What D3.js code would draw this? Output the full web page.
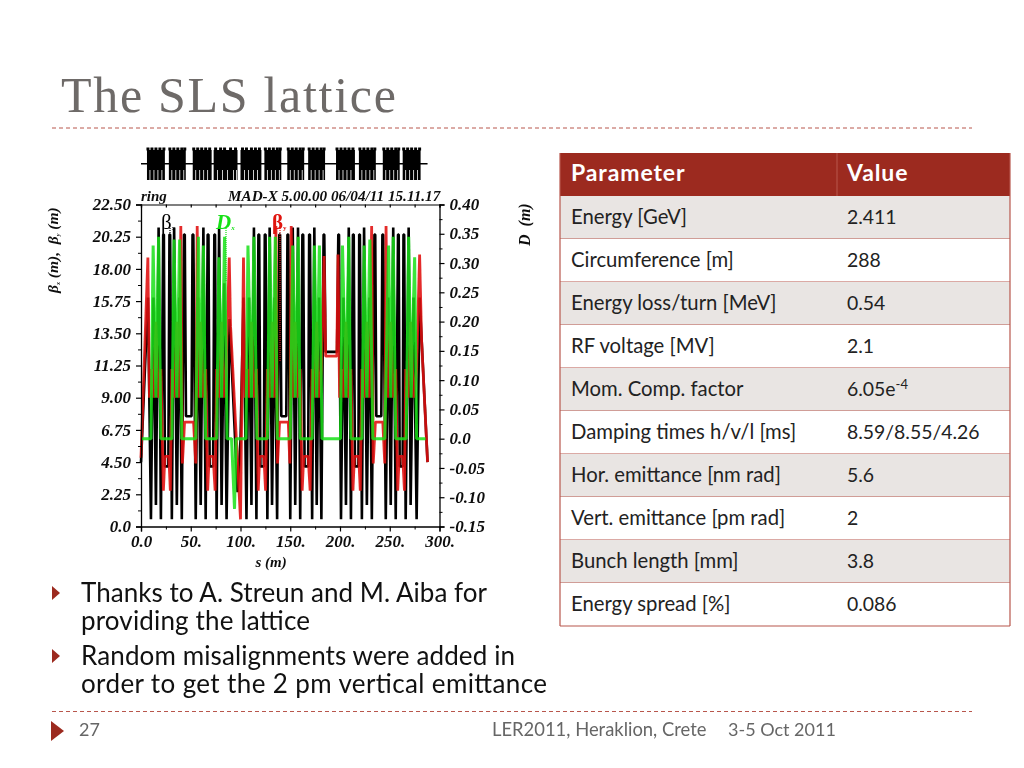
<!DOCTYPE html>
<html><head><meta charset="utf-8">
<script src="https://cdn.jsdelivr.net/npm/d3@7"></script>
<style>
html,body{margin:0;padding:0;background:#fff;overflow:hidden}
svg{display:block}
.sans{font-family:Lato,"Noto Sans",sans-serif}
.plot text{font-family:"Liberation Serif",serif;font-style:italic;font-weight:bold;fill:#111}
</style></head><body>
<svg id="c" width="1024" height="768"></svg>
<script>
const slideTitle="The SLS lattice";
const bulletGroups=[["Thanks to A. Streun and M. Aiba for","providing the lattice"],["Random misalignments were added in","order to get the 2 pm vertical emittance"]];
const footerLeft="27", footerMid="LER2011, Heraklion, Crete", footerRight="3-5 Oct 2011";
const tableHead=["Parameter","Value"];
const paramNames=["Energy [GeV]","Circumference [m]","Energy loss/turn [MeV]","RF voltage [MV]","Mom. Comp. factor","Damping times h/v/l [ms]","Hor. emittance [nm rad]","Vert. emittance [pm rad]","Bunch length [mm]","Energy spread [%]"];
const paramValues=["2.411","288","0.54","2.1","6.05e-4","8.59/8.55/4.26","5.6","2","3.8","0.086"];

const betaTicks=[0,2.25,4.5,6.75,9,11.25,13.5,15.75,18,20.25,22.5];
const betaLabels=["0.0","2.25","4.50","6.75","9.00","11.25","13.50","15.75","18.00","20.25","22.50"];
const dispTicks=[-0.15,-0.1,-0.05,0,0.05,0.1,0.15,0.2,0.25,0.3,0.35,0.4];
const dispLabels=["-0.15","-0.10","-0.05","0.0","0.05","0.10","0.15","0.20","0.25","0.30","0.35","0.40"];
const sTicks=[0,50,100,150,200,250,300];
const sLabels=["0.0","50.","100.","150.","200.","250.","300."];

const betaXPts=[[0,4.5],[7,16],[10,.5],[12.5,16],[15,1.5],[17.7,20.9],[20,.5],[22.3,20.4],[23,20.4],[24,4.2],[27.5,4.2],[28.6,20.4],[29.3,20.4],[31,.5],
[33.3,20.9],[36,1.5],[38.7,16],[41,.5],[43.2,20.4],[44,20.4],[45.2,7.7],[50.8,7.7],[51.8,20.4],[52.6,20.4],[55,.5],
[57.3,16],[60,1.5],[62.7,20.9],[65,.5],[67,20.4],[67.8,20.4],[69,4.2],[72.5,4.2],[73.7,20.4],[74.4,20.4],[76,.5],
[78.5,20.9],[81,1.5],[83.7,17],[86,.5],[89,14.5],[97,2.4],[100,6],[103,16],[106,.5],
[108.5,16],[111,1.5],[113.5,20.9],[116,.5],[118,20.4],[118.8,20.4],[120,4.2],[123.5,4.2],[124.4,20.4],[125.2,20.4],[127,.5],
[129.3,20.9],[131.7,1.5],[134.3,16],[136.8,.5],[139,20.4],[139.8,20.4],[141,7.7],[146,7.7],[147.2,20.4],[148,20.4],[150,.5],
[152.5,20.9],[155,1.5],[157.8,20.9],[160,.5],[162.2,20.4],[163,20.4],[164.4,4.2],[168,4.2],[169,20.4],[169.8,20.4],[172,.5],
[174.2,20.9],[176.6,1.5],[179,16],[181.3,.5],[183.5,20.4],[184.2,20.4],[185.5,12.2],[197,12.2],[198.3,20.4],[199,20.4],[201,.5],
[203.5,16],[206,1.5],[208.8,20.9],[211,.5],[213,20.4],[213.8,20.4],[215,4.2],[218.5,4.2],[219.3,20.4],[220,20.4],[222,.5],
[224.2,20.9],[227,1.5],[229.7,16],[232,.5],[234.6,20.4],[235.4,20.4],[236.5,7.7],[241.5,7.7],[242.6,20.4],[243.4,20.4],[246,.5],
[248.5,16],[251,1.5],[253.5,20.9],[256,.5],[258.3,20.4],[259,20.4],[260,4.2],[263,4.2],[263.8,20.4],[264.5,20.4],[266,.5],
[269,20.9],[271,1.5],[274,16],[277,.5],[280,16],[288,4.5]];

const betaYPts=[[0,4.8],[6.9,18.8],[8.5,9],[10.5,11],[12.5,9],[15,14.3],[17.5,9],[20,11],[22.5,2.5],[24,4.9],[28,4.9],[29.5,2.5],[31,11],[33.5,9],[36,14.3],[38.3,9],[40,21],[41.6,4.4],[43.8,7.3],[52.8,7.3],[55,4.4],[56.5,21],[58,9],[60,14.3],[62.5,9],[65,11],[67,2.5],[68.5,4.9],[72.5,4.9],[74.5,2.5],[76,11],[78.5,9],[81,14.3],[83.5,9],[85.5,11],[88.7,18.8],[90,14],[100,.5],
[103,18.8],[104.6,9],[106.5,11],[108.5,9],[111,14.3],[113.5,9],[116,11],[117.8,2.5],[119.3,4.9],[123.5,4.9],[125.2,2.5],[127,11],[129.3,9],[131.7,14.3],[134,9],[135.6,21],[137.2,4.4],[139.3,7.3],[148,7.3],[149.6,4.4],[151,21],[152.8,9],[155,14.3],[157.5,9],[160,11],[162,2.5],[163.5,4.9],[168,4.9],[170,2.5],[172,11],[174.3,9],[176.6,14.3],[179,9],[181.3,11],[184,18.9],[185.6,11.9],[196.8,11.9],[198,19],[199.6,9],[201.5,11],[203.5,9],[206,14.3],[208.5,9],[211,11],[213,2.5],[214.5,4.9],[218.8,4.9],[220.4,2.5],[222,11],[224.5,9],[227,14.3],[229.5,9],[231.8,21],[233.4,4.4],[235.6,7.3],[243,7.3],[245,4.4],[246.3,21],[248,9],[251,14.3],[253.5,9],[256,11],[258,2.5],[259.5,4.9],[263,4.9],[264.8,2.5],[266,11],[268.5,9],[271,14.3],[274,9],[277,11],[280,19],[282,13],[288,4.5]];

const dispPts=[[0,0],[10,0],[12.2,.33],[15,.07],[17.7,.345],[20,0],[31,0],[33.2,.34],[36,.07],[38.8,.34],[41,0],[55,0],[57.7,.345],[60,.07],[62.7,.33],[65,0],[76,0],[78.3,.31],[81,.07],[84,.345],[86.5,0],[91,0],[94,-.12],[95.5,0],[105.5,0],[107.5,.33],[111,.07],[113.5,.345],[116.5,0],[127,0],[129.3,.345],[131.7,.07],[135,.345],[137,0],[150,0],[152.5,.33],[155,.07],[158,.345],[160,0],[172,0],[174.3,.33],[176.6,.07],[179.3,.33],[182,0],[200.5,0],[202.5,.33],[206,.07],[208.8,.345],[211,0],[222,0],[224.3,.33],[227,.07],[230,.34],[233,0],[245,0],[248.8,.33],[251,.07],[253.5,.345],[256,0],[266.5,0],[269,.345],[271.5,.07],[275,.31],[277,0],[286,0]];

const latticeBlocks=[[6,24],[28,45],[52,71],[73,97],[100,121],[124,141],[147,164],[168,185],[196,215],[219,236],[243,260],[263,281]];
const latticeTeeth=[7,11,15,19,23,29,33,37,41,44,53,57,61,65,69,75,80,84,90,95,102,106,111,115,119,125,129,133,137,140,148,152,156,160,163,169,173,177,181,184,197,201,205,209,213,220,224,228,232,235,244,248,252,256,259,264,268,272,276,280];
const latticeSlits=[9,13,17,21,31,35,39,43,55,59,63,67,77,82,87,93,96,104,108,113,117,127,131,135,139,150,154,158,162,171,175,179,183,199,203,207,211,222,226,230,234,246,250,254,258,266,270,274,278];

const svg=d3.select("#c");
const red="#9c2a1f", gray="#666666", rule="#b8564c";
const defs=svg.append("defs");
defs.append("filter").attr("id","soft").append("feGaussianBlur").attr("stdDeviation",0.45);

// slide furniture
svg.append("text").attr("x",61).attr("y",112).attr("font-family","Liberation Serif").attr("font-size",50).attr("fill","#6e6a68").attr("letter-spacing",1.7).text(slideTitle);
[128,711.5].forEach(y=>svg.append("line").attr("x1",52).attr("x2",972).attr("y1",y).attr("y2",y).attr("stroke",rule).attr("stroke-width",1).attr("stroke-dasharray","4 3"));

// scales
const x=d3.scaleLinear().domain([0,300]).range([141,439.5]);
const yB=d3.scaleLinear().domain([0,22.5]).range([526.5,204.5]);
const yD=d3.scaleLinear().domain([-0.15,0.4]).range([526.5,204.5]);

const plot=svg.append("g").attr("class","plot").attr("filter","url(#soft)");

// lattice
const lat=plot.append("g");
lat.append("line").attr("x1",x(0)).attr("x2",x(288)).attr("y1",163.7).attr("y2",163.7).attr("stroke","#000").attr("stroke-width",1.4);
lat.selectAll(".b").data(latticeBlocks).join("rect").attr("x",d=>x(d[0])).attr("width",d=>x(d[1])-x(d[0])).attr("y",150).attr("height",30).attr("fill","#000");
lat.selectAll(".t").data(latticeTeeth).join("rect").attr("x",d=>x(d)-1.5).attr("width",3).attr("y",147.5).attr("height",3).attr("fill","#000");
lat.selectAll(".s").data(latticeSlits).join("rect").attr("x",d=>x(d)-.4).attr("width",.8).attr("y",170).attr("height",11).attr("fill","#fff");

// curves
const lineB=d3.line().x(d=>x(d[0])).y(d=>yB(d[1]));
const lineD=d3.line().x(d=>x(d[0])).y(d=>yD(d[1]));
plot.append("path").attr("d",lineB(betaXPts)).attr("fill","none").attr("stroke","#000").attr("stroke-width",2.6).attr("stroke-linejoin","bevel");
plot.append("path").attr("d",lineB(betaYPts)).attr("fill","none").attr("stroke","#e0120f").attr("stroke-width",2.8).attr("opacity",.88).attr("stroke-linejoin","bevel");
plot.append("path").attr("d",lineD(dispPts)).attr("fill","none").attr("stroke","#16e016").attr("stroke-width",3).attr("opacity",.85).attr("stroke-linejoin","bevel");

// axes
const axG=plot.append("g");
function ax(orient,scale,vals,labels,minor,tx,ty){
  const a=orient(scale).tickValues(vals).tickFormat((d,i)=>labels[i]).tickSize(5).tickPadding(5);
  const g=axG.append("g").attr("transform",`translate(${tx},${ty})`).call(a);
  g.selectAll("path").attr("stroke","#000").attr("stroke-width",1.3);
  g.selectAll("line").attr("stroke","#000").attr("stroke-width",1.2);
  g.selectAll("text").attr("font-size",17);
  const m=orient(scale).tickValues(minor).tickFormat("").tickSize(3);
  const g2=axG.append("g").attr("transform",`translate(${tx},${ty})`).call(m);
  g2.select("path").remove();
  g2.selectAll("line").attr("stroke","#000").attr("stroke-width",1);
  return g;
}
const betaMinor=[1.125,3.375,5.625,7.875,10.125,12.375,14.625,16.875,19.125,21.375];
const dispMinor=[-0.125,-0.075,-0.025,0.025,0.075,0.125,0.175,0.225,0.275,0.325,0.375];
const sMinor=[25,75,125,175,225,275];
ax(d3.axisLeft,yB,betaTicks,betaLabels,betaMinor,141,0).selectAll("text").attr("dy","0.3em");
ax(d3.axisRight,yD,dispTicks,dispLabels,dispMinor,439.5,0).selectAll("text").attr("dy","0.3em");
ax(d3.axisBottom,x,sTicks,sLabels,sMinor,0,526.5).selectAll("text").attr("dy","0.6em");
const topA=d3.axisBottom(x).tickValues(sTicks.concat(sMinor)).tickFormat("").tickSize(3);
const tg=axG.append("g").attr("transform","translate(0,204.5)").call(topA);
tg.selectAll("path,line").attr("stroke","#000").attr("stroke-width",1.2);

// plot captions
plot.append("text").attr("x",141).attr("y",201).attr("font-size",15).text("ring");
plot.append("text").attr("x",228).attr("y",201).attr("font-size",15.2).text("MAD-X 5.00.00  06/04/11 15.11.17");
plot.append("text").attr("x",271).attr("y",567).attr("font-size",15).attr("text-anchor","middle").text("s (m)");
const yl=plot.append("text").attr("transform","translate(58,293) rotate(-90)").attr("font-size",15.5).attr("xml:space","preserve");
yl.append("tspan").text("β");yl.append("tspan").attr("font-size",6).attr("dy",2).text("x");yl.append("tspan").attr("dy",-2).text(" (m),  β");yl.append("tspan").attr("font-size",6).attr("dy",2).text("y");yl.append("tspan").attr("dy",-2).text(" (m)");
plot.append("text").attr("transform","translate(530,246) rotate(-90)").attr("font-size",16).attr("xml:space","preserve").text("D  (m)");

// legend
const legendItems=[["β","x",161,"#000",170,240,"normal","normal"],["D","x",216,"#16e016",226,282,"italic","bold"],["β","y",272,"#e0120f",280,362,"normal","bold"]];
legendItems.forEach(d=>{
  plot.append("line").attr("x1",d[4]).attr("x2",d[4]).attr("y1",228).attr("y2",d[5]).attr("stroke",d[3]).attr("stroke-width",1.2).attr("stroke-dasharray","1 1");
  const t=plot.append("text").attr("x",d[2]).attr("y",229).style("fill",d[3]).style("font-style",d[6]).style("font-weight",d[7]).attr("font-size",21);
  t.append("tspan").text(d[0]);
  t.append("tspan").attr("font-size",7).attr("dy",1).text(d[1]);
});

// table
const tx0=560,tx1=1010,tmid=837,ty0=153,hh=43,rh=43;
const tbl=svg.append("g").attr("class","sans");
tbl.append("rect").attr("x",tx0).attr("y",ty0).attr("width",tx1-tx0).attr("height",hh).attr("fill",red);
tbl.append("line").attr("x1",tmid).attr("x2",tmid).attr("y1",ty0).attr("y2",ty0+hh).attr("stroke","#b8564c");
tbl.selectAll(".h").data(tableHead).join("text").attr("x",(d,i)=>i?847:571).attr("y",ty0+28).attr("fill","#fff").attr("font-size",23).attr("font-weight",700).attr("letter-spacing",.9).text(d=>d);
const rows=tbl.selectAll(".r").data(paramNames).join("g").attr("transform",(d,i)=>`translate(0,${ty0+hh+i*rh})`);
rows.append("rect").attr("x",tx0).attr("width",tx1-tx0).attr("height",rh).attr("fill",(d,i)=>i%2?"#fff":"#e9e5e3");
rows.append("line").attr("x1",tx0).attr("x2",tx1).attr("y1",rh).attr("y2",rh).attr("stroke","#b8564c").attr("stroke-width",1.2);
rows.append("text").attr("x",571).attr("y",27.5).attr("font-size",20.3).attr("fill","#222").text(d=>d);
rows.append("text").attr("x",847).attr("y",27.5).attr("font-size",19.4).attr("fill","#222").each(function(d,i){
  const v=paramValues[i], m=v.match(/^(.*e)(-\d)$/), t=d3.select(this);
  if(m){t.append("tspan").text(m[1]);t.append("tspan").attr("font-size",13).attr("dy",-7).text(m[2]);}
  else t.text(v);
});
[tx0,tx1].forEach(xx=>tbl.append("line").attr("x1",xx).attr("x2",xx).attr("y1",ty0).attr("y2",ty0+hh+10*rh).attr("stroke","#b8564c").attr("stroke-width",1.2));

// bullets
const bulletY=[[602,630],[665,693]];
const bulletLen=[[406,229],[434,466]];
bulletGroups.forEach((lines,gi)=>{
  const y0=bulletY[gi][0];
  svg.append("path").attr("d",`M52,${y0-16}L60,${y0-9}L52,${y0-2}Z`).attr("fill",red);
  lines.forEach((l,i)=>svg.append("text").attr("class","sans").attr("x",81).attr("y",bulletY[gi][i]).attr("font-size",26).attr("textLength",bulletLen[gi][i]).attr("lengthAdjust","spacing").attr("fill","#111").text(l));
});

// footer
svg.append("path").attr("d","M51,721L64,731L51,741Z").attr("fill",red);
svg.append("text").attr("class","sans").attr("x",79).attr("y",736).attr("font-size",18).attr("fill",gray).text(footerLeft);
svg.append("text").attr("class","sans").attr("x",492).attr("y",736).attr("font-size",18.4).attr("fill",gray).text(footerMid);
svg.append("text").attr("class","sans").attr("x",728).attr("y",736).attr("font-size",18).attr("fill",gray).text(footerRight);
</script>
</body></html>
